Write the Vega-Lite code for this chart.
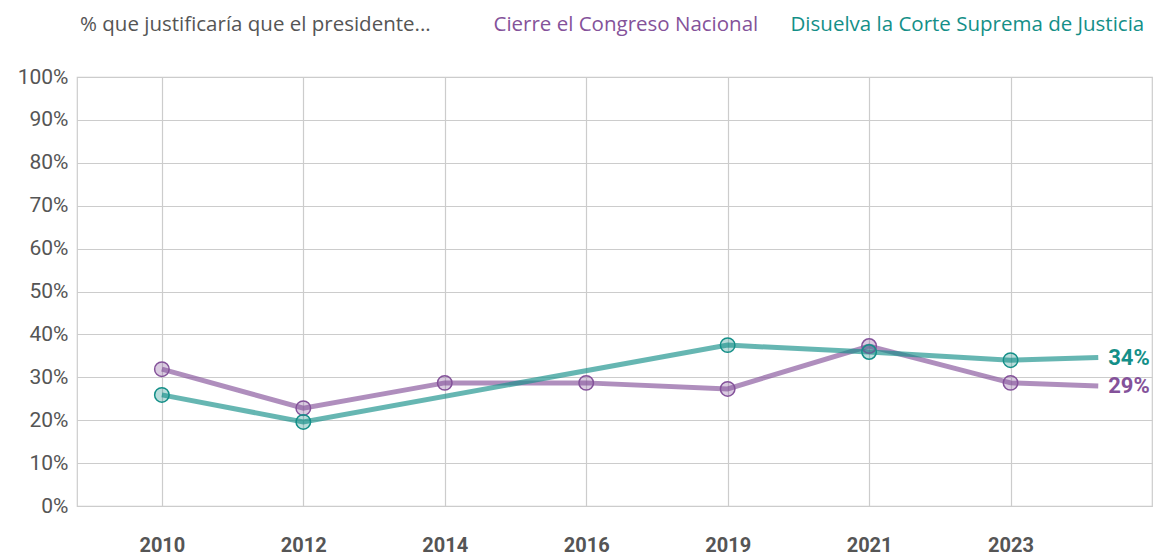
{
  "$schema": "https://vega.github.io/schema/vega-lite/v6.json",
  "autosize": "none",
  "padding": {"left": 77, "top": 77, "right": 5, "bottom": 50},
  "width": 1075,
  "height": 429,
  "config": {
    "view": {"stroke": "#cccccc", "strokeWidth": 1.2},
    "font": "Roboto"
  },
  "data": {
    "values": [
      {"serie": "Cierre el Congreso Nacional", "idx": 0, "valor": 31.9, "tipo": "dato"},
      {"serie": "Cierre el Congreso Nacional", "idx": 1, "valor": 22.8, "tipo": "dato"},
      {"serie": "Cierre el Congreso Nacional", "idx": 2, "valor": 28.7, "tipo": "dato"},
      {"serie": "Cierre el Congreso Nacional", "idx": 3, "valor": 28.7, "tipo": "dato"},
      {"serie": "Cierre el Congreso Nacional", "idx": 4, "valor": 27.3, "tipo": "dato"},
      {"serie": "Cierre el Congreso Nacional", "idx": 5, "valor": 37.3, "tipo": "dato"},
      {"serie": "Cierre el Congreso Nacional", "idx": 6, "valor": 28.7, "tipo": "dato"},
      {"serie": "Cierre el Congreso Nacional", "idx": 6.62, "valor": 28.0, "tipo": "fin", "etiqueta": "29%"},
      {"serie": "Disuelva la Corte Suprema de Justicia", "idx": 0, "valor": 25.9, "tipo": "dato"},
      {"serie": "Disuelva la Corte Suprema de Justicia", "idx": 1, "valor": 19.6, "tipo": "dato"},
      {"serie": "Disuelva la Corte Suprema de Justicia", "idx": 4, "valor": 37.5, "tipo": "dato"},
      {"serie": "Disuelva la Corte Suprema de Justicia", "idx": 5, "valor": 35.9, "tipo": "dato"},
      {"serie": "Disuelva la Corte Suprema de Justicia", "idx": 6, "valor": 34.0, "tipo": "dato"},
      {"serie": "Disuelva la Corte Suprema de Justicia", "idx": 6.62, "valor": 34.6, "tipo": "fin", "etiqueta": "34%"}
    ]
  },
  "encoding": {
    "x": {
      "field": "idx",
      "type": "quantitative",
      "scale": {"domain": [-0.6, 7.0], "nice": false, "zero": false},
      "axis": {
        "title": null,
        "values": [0, 1, 2, 3, 4, 5, 6],
        "labelExpr": "['2010','2012','2014','2016','2019','2021','2023'][datum.value]",
        "domain": false,
        "ticks": false,
        "grid": true,
        "gridColor": "#cccccc",
        "gridWidth": 1.2,
        "labelFont": "Roboto",
        "labelFontSize": 20,
        "labelFontWeight": "bold",
        "labelColor": "#555555",
        "labelPadding": 29
      }
    },
    "y": {
      "field": "valor",
      "type": "quantitative",
      "scale": {"domain": [0, 100], "nice": false},
      "axis": {
        "title": null,
        "values": [0, 10, 20, 30, 40, 50, 60, 70, 80, 90, 100],
        "labelExpr": "datum.value + '%'",
        "domain": false,
        "ticks": false,
        "grid": true,
        "gridColor": "#cccccc",
        "gridWidth": 1.2,
        "labelFont": "Roboto",
        "labelFontSize": 21,
        "labelColor": "#555555",
        "labelPadding": 9
      }
    },
    "color": {
      "field": "serie",
      "type": "nominal",
      "scale": {
        "domain": ["Cierre el Congreso Nacional", "Disuelva la Corte Suprema de Justicia"],
        "range": ["#84529a", "#148f88"]
      },
      "legend": null
    }
  },
  "layer": [
    {
      "mark": {"type": "line", "strokeWidth": 5, "opacity": 0.65},
      "encoding": {
        "order": {"field": "idx", "type": "quantitative"},
        "color": {
          "field": "serie",
          "type": "nominal",
          "legend": {
            "orient": "none",
            "legendX": 3,
            "legendY": -62,
            "direction": "horizontal",
            "title": "% que justificaría que el presidente...",
            "titleOrient": "left",
            "titleFont": "Open Sans",
            "titleFontSize": 20.5,
            "titleFontWeight": "normal",
            "titleColor": "#555555",
            "titlePadding": 42,
            "titleLimit": 600,
            "symbolOpacity": 0,
            "symbolSize": 0,
            "symbolStrokeWidth": 0,
            "labelOffset": 0,
            "columnPadding": 11,
            "labelFont": "Open Sans",
            "labelFontSize": 20.5,
            "labelLimit": 500,
            "encode": {
              "labels": {"update": {"fill": {"scale": "color", "field": "value"}}}
            }
          }
        }
      }
    },
    {
      "transform": [{"filter": "datum.tipo == 'dato'"}],
      "mark": {"type": "point", "filled": false, "size": 210, "strokeWidth": 1.5, "fillOpacity": 0.3},
      "encoding": {
        "fill": {
          "field": "serie",
          "type": "nominal",
          "scale": {
            "domain": ["Cierre el Congreso Nacional", "Disuelva la Corte Suprema de Justicia"],
            "range": ["#84529a", "#148f88"]
          },
          "legend": null
        }
      }
    },
    {
      "transform": [{"filter": "datum.tipo == 'fin'"}],
      "mark": {"type": "text", "align": "left", "dx": 10, "fontSize": 22, "fontWeight": "bold", "font": "Roboto"},
      "encoding": {
        "text": {"field": "etiqueta"}
      }
    }
  ]
}
